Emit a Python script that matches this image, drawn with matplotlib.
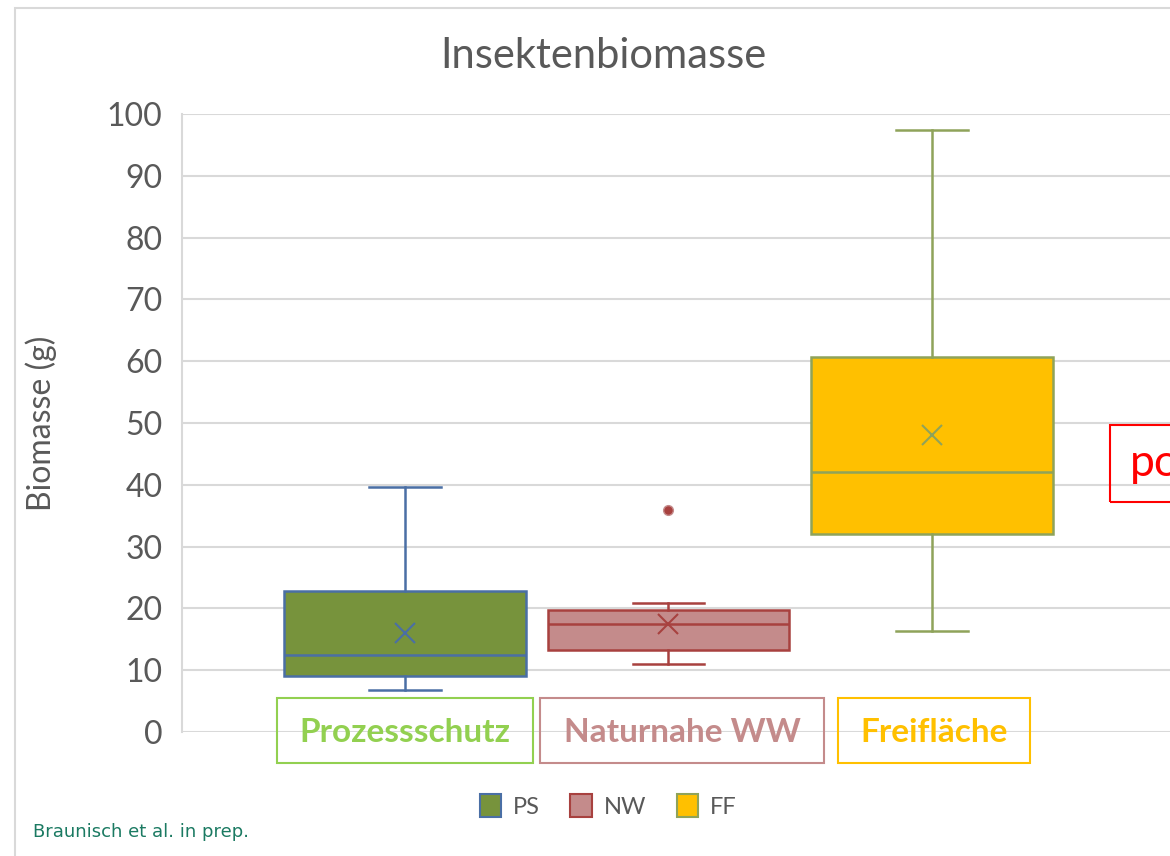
import matplotlib
matplotlib.use("Agg")
import matplotlib.pyplot as plt
from matplotlib.patches import Rectangle, Patch

# Daten
gruppen = ['PS', 'NW', 'FF']
namen = ['Prozessschutz', 'Naturnahe WW', 'Freifläche']
whis_lo = [6.8, 11.0, 16.3]
q1 = [9.1, 13.3, 32.0]
median = [12.5, 17.5, 42.1]
q3 = [22.8, 19.7, 60.7]
whis_hi = [39.6, 20.9, 97.4]
mittel = [16.0, 17.5, 48.1]
ausreisser = [[], [35.9], []]

fill = ['#77933C', '#C48B8B', '#FFC000']
edge = ['#4A6FA5', '#A8413F', '#8FA35A']
lab_col = ['#92D050', '#C48B8B', '#FFC000']

W, H = 1170, 856
fig = plt.figure(figsize=(W/100, H/100), dpi=100)
plt.rcParams['font.family'] = ['Lato', 'DejaVu Sans']

def fx(x):
    return x / W
def fy(y):
    return 1 - y / H

# Rahmen
fig.patches.append(Rectangle((fx(15), fy(880)), 2, fy(8) - fy(880),
                             transform=fig.transFigure, fill=False,
                             ec='#d9d9d9', lw=1.5))

ax = fig.add_axes([fx(182), fy(732), 1 - fx(182), fy(114) - fy(732)])
pos = [0, 1, 2]
ax.set_xlim(-0.846, 2.903)
ax.set_ylim(0, 100)

stats = []
for i in range(3):
    stats.append(dict(med=median[i], q1=q1[i], q3=q3[i], whislo=whis_lo[i],
                      whishi=whis_hi[i], mean=mittel[i], fliers=ausreisser[i]))

for i in range(3):
    ax.bxp([stats[i]], positions=[pos[i]], widths=0.915, patch_artist=True,
           showmeans=True, showfliers=True,
           boxprops=dict(facecolor=fill[i], edgecolor=edge[i], lw=1.8),
           medianprops=dict(color=edge[i], lw=1.8),
           whiskerprops=dict(color=edge[i], lw=1.8),
           capprops=dict(color=edge[i], lw=1.8), capwidths=0.27,
           meanprops=dict(marker='x', markersize=14, markeredgecolor=edge[i],
                          markeredgewidth=1.5),
           flierprops=dict(marker='o', markersize=7, markerfacecolor=edge[i],
                           markeredgecolor=fill[i], markeredgewidth=1),
           zorder=3)

ax.set_yticks(range(0, 101, 10))
ax.grid(axis='y', color='#d9d9d9', lw=1.5, zorder=0)
ax.set_xticks([])
for s in ['top', 'right', 'bottom']:
    ax.spines[s].set_visible(False)
ax.spines['left'].set_color('#d9d9d9')
ax.spines['left'].set_linewidth(1.5)
ax.tick_params(axis='y', length=0, pad=14, labelsize=23, labelcolor='#595959')
ax.set_ylabel('Biomasse (g)', fontsize=23, color='#595959')
ax.yaxis.set_label_coords((57 - 182) / (W - 182), 0.5)

ax.set_title('Insektenbiomasse', fontsize=30, color='#595959', pad=33,
             x=(603 - 182) / (W - 182))

# Kategorie-Kästen
kasten = [(277, 533), (540, 824), (838, 1030)]
for i in range(3):
    x0, x1 = kasten[i]
    fig.patches.append(Rectangle((fx(x0), fy(763)), fx(x1) - fx(x0), fy(698) - fy(763),
                                 transform=fig.transFigure, fill=False,
                                 ec=lab_col[i], lw=1.5))
    fig.text(fx((x0 + x1) / 2), fy(733), namen[i], color=lab_col[i],
             fontsize=24, fontweight='bold', ha='center', va='center')

# roter Kasten rechts (abgeschnitten)
fig.patches.append(Rectangle((fx(1110), fy(502)), 0.2, fy(425) - fy(502),
                             transform=fig.transFigure, fill=False,
                             ec='#FF0000', lw=1.5))
fig.text(fx(1130), fy(463), 'po', color='#FF0000', fontsize=32,
         ha='left', va='center')

hand = [Patch(facecolor=fill[i], edgecolor=edge[i], lw=1.5, label=gruppen[i])
        for i in range(3)]
fig.legend(handles=hand, loc='center', bbox_to_anchor=(fx(608), fy(806)),
           ncol=3, frameon=False, fontsize=17, handlelength=0.9,
           handleheight=1.1, columnspacing=1.3, handletextpad=0.5,
           labelcolor='#595959')

fig.text(fx(33), fy(832), 'Braunisch et al. in prep.', color='#1B7A62',
         fontsize=13, family='DejaVu Sans', ha='left', va='center')

fig.savefig('out.png', dpi=100)
